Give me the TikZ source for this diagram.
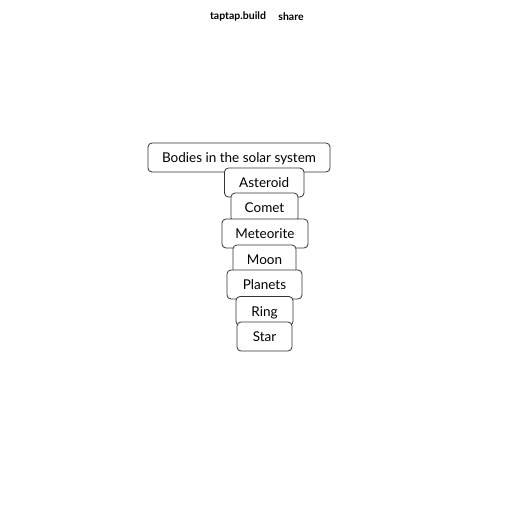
\documentclass[tikz,border=0pt]{standalone}
\usepackage{fontspec}
\setmainfont{Lato}
\begin{document}
\begin{tikzpicture}[x=1pt,y=-1pt,
  item/.style={draw=black!80, line width=0.8pt, fill=white, rounded corners=4pt,
    minimum height=29pt, inner sep=0pt, text height=10pt, text depth=0pt,
    font=\fontsize{13.5}{15}\selectfont},
  head/.style={font=\fontsize{10.5}{12}\selectfont\bfseries, inner sep=0pt}]
\useasboundingbox (0,0) rectangle (512,512);
\node[head] (brand) at (238,16.5) {taptap.build};
\node[head] (share) at (291,16.5) {share};
\node[item, minimum width=182pt] (bodies) at (239,157.5) {Bodies in the solar system};
\node[item, minimum width=79.5pt] (asteroid) at (264.2,182.5) {Asteroid};
\node[item, minimum width=67pt] (comet) at (264.5,207.5) {Comet};
\node[item, minimum width=86pt] (meteorite) at (265,233.5) {Meteorite};
\node[item, minimum width=63pt] (moon) at (264.5,259.5) {Moon};
\node[item, minimum width=75pt] (planets) at (264.5,284.5) {Planets};
\node[item, minimum width=57pt] (ring) at (264.5,311) {Ring};
\node[item, minimum width=55pt] (star) at (264.5,336.5) {Star};
\end{tikzpicture}
\end{document}
